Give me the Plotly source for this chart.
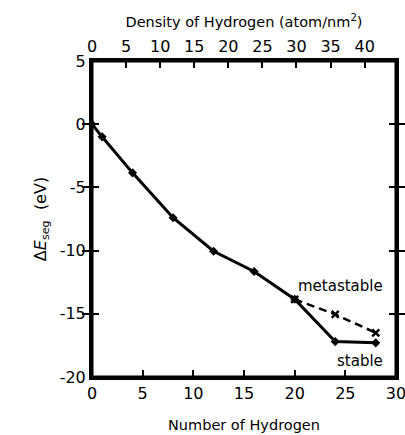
import plotly.graph_objects as go

n_stable = [0, 1, 4, 8, 12, 16, 20, 24, 28]
e_stable = [0.0, -1.0, -3.85, -7.4, -10.05, -11.65, -13.85, -17.2, -17.3]
n_meta = [20, 24, 28]
e_meta = [-13.85, -15.05, -16.5]

x_ticks = [0, 5, 10, 15, 20, 25, 30]
y_ticks = [-20, -15, -10, -5, 0, 5]
y_tick_labels = ["-20", "-15", "-10", "-5", "0", "5"]
density_ticks = [0, 5, 10, 15, 20, 25, 30, 35, 40]

FONT = "DejaVu Sans"

fig = go.Figure()
fig.add_trace(go.Scatter(x=n_meta, y=e_meta, mode="lines+markers",
                         line=dict(color="black", width=2.5, dash="8px,5px"),
                         marker=dict(symbol="x-thin", size=7, color="black",
                                     line=dict(width=2.5, color="black")),
                         showlegend=False, cliponaxis=False))
fig.add_trace(go.Scatter(x=n_stable, y=e_stable, mode="lines+markers",
                         line=dict(color="black", width=3),
                         marker=dict(symbol="diamond", size=7, color="black"),
                         showlegend=False, cliponaxis=False))
fig.add_trace(go.Scatter(x=[], y=[], xaxis="x2", showlegend=False, hoverinfo="skip"))

axis_common = dict(showgrid=False, zeroline=False, ticks="inside", ticklen=7,
                   tickwidth=2, tickcolor="black", showline=True, linecolor="black",
                   linewidth=3, automargin=False, layer="above traces",
                   ticklabeloverflow="allow",
                   tickfont=dict(family=FONT, size=16, color="black"))

fig.update_layout(
    width=405, height=435,
    margin=dict(l=92, r=9, t=61, b=58),
    paper_bgcolor="white", plot_bgcolor="white",
    xaxis=dict(range=[0, 30], tickvals=x_ticks, mirror=False,
               title=dict(text="Number of Hydrogen", font=dict(family=FONT, size=14.5, color="black"), standoff=18),
               **axis_common),
    xaxis2=dict(range=[0, 44.6], tickvals=density_ticks, overlaying="x", side="top",
                anchor="y",
                title=dict(text="Density of Hydrogen (atom/nm<sup>2</sup>)", font=dict(family=FONT, size=14.5, color="black"), standoff=6),
                **axis_common),
    yaxis=dict(range=[-20, 5], tickvals=y_ticks, ticktext=y_tick_labels, mirror="allticks",
               title=dict(text="Δ<i>E</i><sub>seg</sub>  (eV)", font=dict(family=FONT, size=16, color="black"), standoff=10),
               **axis_common),
    shapes=[dict(type="rect", xref="paper", yref="paper", x0=0, x1=1, y0=0, y1=1,
                 line=dict(color="black", width=3), layer="above")],
    annotations=[
        dict(x=24.5, y=-12.8, text="metastable", showarrow=False, xref="x", yref="y",
             font=dict(family=FONT, size=15, color="black")),
        dict(x=26.4, y=-18.7, text="stable", showarrow=False, xref="x", yref="y",
             font=dict(family=FONT, size=15, color="black")),
    ],
)

fig.write_html("out.html", config={"displayModeBar": False},
               post_script="document.body.style.margin='0';document.body.style.overflow='hidden';")
